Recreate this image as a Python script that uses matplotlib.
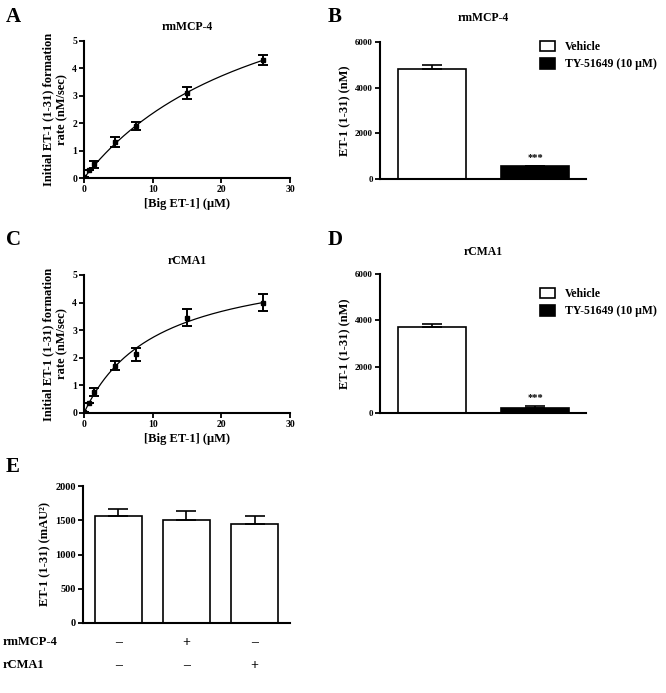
import numpy as np
import matplotlib
matplotlib.use("Agg")
import matplotlib.pyplot as plt

plt.rcParams['font.family'] = ['Liberation Serif', 'DejaVu Serif']
plt.rcParams['font.weight'] = 'bold'
plt.rcParams['axes.labelweight'] = 'bold'
plt.rcParams['axes.titleweight'] = 'bold'

W, H = 666, 693

# kinetics data (A: rmMCP-4, C: rCMA1)
conc = [0, 0.75, 1.5, 4.5, 7.5, 15, 26]
rate_mcp4 = [0.05, 0.3, 0.5, 1.3, 1.9, 3.1, 4.3]
err_mcp4 = [0.0, 0.0, 0.12, 0.18, 0.15, 0.22, 0.18]
rate_cma1 = [0.05, 0.38, 0.75, 1.72, 2.12, 3.45, 4.0]
err_cma1 = [0.0, 0.0, 0.15, 0.15, 0.22, 0.3, 0.3]
# Michaelis-Menten fit parameters (Vmax, Km)
fit_mcp4 = (8.8, 27.3)
fit_cma1 = (5.63, 10.6)

# inhibitor bars (B, D)
groups = ['Vehicle', 'TY-51649 (10 μM)']
et1_mcp4 = [4800, 560]
et1_mcp4_err = [190, 30]
et1_cma1 = [3700, 200]
et1_cma1_err = [150, 90]

# panel E
e_vals = [1560, 1500, 1450]
e_err = [100, 140, 110]
e_mcp4 = ['–', '+', '–']
e_cma1 = ['–', '–', '+']


def ax_px(fig, l, t, r, b):
    return fig.add_axes([l / W, 1 - b / H, (r - l) / W, (b - t) / H])


def style(ax, size=7):
    for s in ['top', 'right']:
        ax.spines[s].set_visible(False)
    for s in ['left', 'bottom']:
        ax.spines[s].set_linewidth(1.5)
    ax.tick_params(width=1.3, length=3.5, labelsize=size, pad=1.5)


def kinetics(ax, y, err, fit, title):
    style(ax, 7)
    vmax, km = fit
    xs = np.linspace(0, 26, 200)
    ax.plot(xs, vmax * xs / (km + xs), color='black', lw=0.9)
    ax.errorbar(conc, y, yerr=err, fmt='s', color='black', ms=3.5,
                capsize=3.5, elinewidth=1.4, capthick=1.4)
    ax.set_xlim(0, 30)
    ax.set_ylim(0, 5)
    ax.set_xticks([0, 10, 20, 30])
    ax.set_yticks([0, 1, 2, 3, 4, 5])
    ax.set_xlabel('[Big ET-1] (μM)', fontsize=9, labelpad=3)
    ax.set_ylabel('Initial ET-1 (1-31) formation\nrate (nM/sec)', fontsize=9, labelpad=3)
    ax.set_title(title, fontsize=8.5, pad=8)


def inhibitor(ax, vals, err, title, star_y, title_pad):
    style(ax, 6.5)
    ax.bar([0], [vals[0]], width=0.66, color='white', edgecolor='black', lw=1.2, label=groups[0])
    ax.bar([1], [vals[1]], width=0.66, color='black', edgecolor='black', lw=1.2, label=groups[1])
    ax.errorbar([0, 1], vals, yerr=[[0, 0], err], fmt='none', ecolor='black',
                capsize=7, elinewidth=1.2, capthick=1.2)
    ax.text(1, star_y, '***', ha='center', va='bottom', fontsize=7.5)
    ax.set_xlim(-0.5, 1.49)
    ax.set_ylim(0, 6000)
    ax.set_xticks([])
    ax.set_yticks([0, 2000, 4000, 6000])
    ax.set_ylabel('ET-1 (1-31) (nM)', fontsize=9, labelpad=3)
    ax.set_title(title, fontsize=8.5, pad=title_pad)


def legend(ax, top):
    ax.legend(loc='upper left', bbox_to_anchor=(534 / W, 1 - top / H), bbox_transform=fig.transFigure,
              frameon=False, fontsize=8.5, handlelength=1.3, handleheight=1.0, borderpad=0,
              labelspacing=0.4, handletextpad=0.8)


fig = plt.figure(figsize=(W / 100, H / 100), dpi=100)

axA = ax_px(fig, 84, 41, 290, 178)
kinetics(axA, rate_mcp4, err_mcp4, fit_mcp4, 'rmMCP-4')

axB = ax_px(fig, 380, 42, 586, 179)
inhibitor(axB, et1_mcp4, et1_mcp4_err, 'rmMCP-4', 750, 15)
legend(axB, 35)

axC = ax_px(fig, 84, 275, 290, 413)
kinetics(axC, rate_cma1, err_cma1, fit_cma1, 'rCMA1')

axD = ax_px(fig, 380, 274, 586, 413)
inhibitor(axD, et1_cma1, et1_cma1_err, 'rCMA1', 480, 14)
legend(axD, 282)

axE = ax_px(fig, 83, 486, 290, 623)
style(axE, 7.5)
xe = np.arange(len(e_vals))
axE.bar(xe, e_vals, width=0.69, color='white', edgecolor='black', lw=1.2)
axE.errorbar(xe, e_vals, yerr=[np.zeros(len(e_err)), e_err], fmt='none', ecolor='black',
             capsize=7, elinewidth=1.2, capthick=1.2)
axE.set_xlim(-0.52, 2.52)
axE.set_ylim(0, 2000)
axE.set_yticks([0, 500, 1000, 1500, 2000])
axE.set_xticks([])
axE.set_ylabel('ET-1 (1-31) (mAU²)', fontsize=9, labelpad=3)
for i in range(len(xe)):
    axE.text(xe[i], -0.14, e_mcp4[i], transform=axE.get_xaxis_transform(), ha='center', va='center', fontsize=10)
    axE.text(xe[i], -0.31, e_cma1[i], transform=axE.get_xaxis_transform(), ha='center', va='center', fontsize=10)
fig.text(3 / W, 1 - 642 / H, 'rmMCP-4', ha='left', va='center', fontsize=9)
fig.text(3 / W, 1 - 665 / H, 'rCMA1', ha='left', va='center', fontsize=9)

for lbl, x, y in [('A', 6, 17), ('B', 328, 17), ('C', 6, 240), ('D', 328, 240), ('E', 6, 467)]:
    fig.text(x / W, 1 - y / H, lbl, ha='left', va='center', fontsize=15, fontweight='bold')

fig.savefig('out.png', dpi=100)
